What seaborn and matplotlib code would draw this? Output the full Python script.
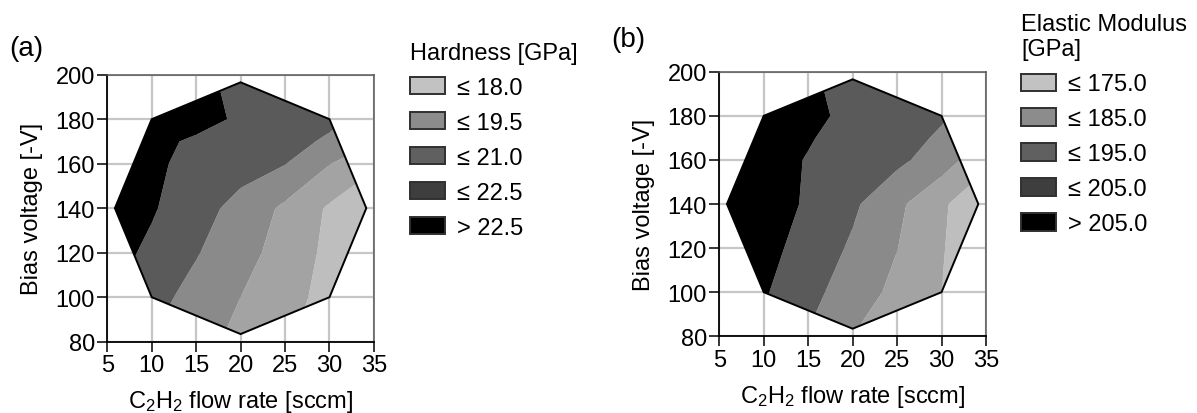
import numpy as np
import matplotlib
matplotlib.use("Agg")
import matplotlib.pyplot as plt
from matplotlib.patches import Polygon, Patch
import seaborn as sns

# Central composite design (perimeter points of the process window)
design_flow = [20.0, 30.0, 34.14, 30.0, 20.0, 10.0, 5.86, 10.0]
design_bias = [196.57, 180.0, 140.0, 100.0, 83.43, 100.0, 140.0, 180.0]

# Response surface grid
flow_rate = [5, 10, 15, 20, 25, 30, 35]
bias_voltage = [80, 100, 120, 140, 160, 170, 180, 200]

# Hardness [GPa]; rows follow bias_voltage, columns follow flow_rate
hardness = [
    [22.3, 21.0, 20.0, 19.1, 18.2, 17.2, 16.3],
    [22.7, 21.5, 20.5, 19.5, 18.55, 17.5, 16.5],
    [23.1, 22.2, 21.1, 20.05, 18.9, 17.65, 16.5],
    [23.8, 22.65, 21.6, 20.5, 19.22, 17.8, 16.4],
    [23.8, 22.75, 22.1, 21.6, 21.05, 19.55, 18.3],
    [24.0, 23.0, 22.2, 21.85, 21.45, 20.8, 19.6],
    [24.5, 24.0, 23.2, 22.2, 21.7, 21.3, 20.5],
    [25.0, 24.3, 23.0, 21.9, 21.8, 21.4, 21.0],
]

# Elastic modulus [GPa]
modulus = [
    [211.0, 203.5, 194.5, 185.0, 178.0, 172.0, 165.0],
    [213.0, 206.0, 198.2, 189.8, 182.6, 175.0, 167.0],
    [215.5, 208.3, 201.1, 193.6, 185.2, 175.8, 166.0],
    [216.0, 210.5, 203.6, 196.7, 187.2, 176.7, 166.0],
    [212.0, 208.5, 204.5, 200.5, 197.3, 190.0, 178.0],
    [213.5, 210.0, 205.7, 201.5, 197.8, 194.0, 186.0],
    [215.0, 211.0, 207.0, 203.0, 199.0, 195.8, 191.0],
    [214.0, 210.0, 206.0, 202.0, 198.0, 195.5, 193.0],
]

hardness_levels = [18.0, 19.5, 21.0, 22.5]
hardness_labels = ["≤ 18.0", "≤ 19.5", "≤ 21.0", "≤ 22.5", "> 22.5"]
modulus_levels = [175.0, 185.0, 195.0, 205.0]
modulus_labels = ["≤ 175.0", "≤ 185.0", "≤ 195.0", "≤ 205.0", "> 205.0"]

x_ticks = [5, 10, 15, 20, 25, 30, 35]
y_ticks = [80, 100, 120, 140, 160, 180, 200]

band_colors = ["#bebebe", "#a3a3a3", "#8a8a8a", "#5a5a5a", "#000000"]
key_colors = ["#c2c2c2", "#8c8c8c", "#606060", "#3e3e3e", "#000000"]

sns.set_theme(style="ticks")
plt.rcParams["font.family"] = ["Liberation Sans", "DejaVu Sans"]
plt.rcParams["text.color"] = "black"
plt.rcParams["axes.labelcolor"] = "black"
plt.rcParams["xtick.color"] = "black"
plt.rcParams["ytick.color"] = "black"
plt.rcParams["mathtext.fontset"] = "custom"
plt.rcParams["mathtext.rm"] = "Liberation Sans"
plt.rcParams["mathtext.it"] = "Liberation Sans:italic"
plt.rcParams["mathtext.bf"] = "Liberation Sans:bold"

FS = 17

fig = plt.figure(figsize=(11.97, 4.14), dpi=100)
ax_a = fig.add_axes([0.0896, 0.1722, 0.2228, 0.6450])
ax_b = fig.add_axes([0.6009, 0.1853, 0.2228, 0.6390])

X, Y = np.meshgrid(flow_rate, bias_voltage)


def draw_panel(ax, values, levels):
    ax.set_xlim(5, 35)
    ax.set_ylim(80, 200)
    ax.set_xticks(x_ticks)
    ax.set_yticks(y_ticks)
    ax.grid(True, color="#c6c6c6", lw=1.6)
    ax.set_axisbelow(True)
    Z = np.array(values)
    cs = ax.contourf(X, Y, Z, levels=levels, colors=band_colors,
                     extend="both", antialiased=True, zorder=2)
    window = Polygon(np.column_stack([design_flow, design_bias]),
                     closed=True, facecolor="none", edgecolor="black",
                     lw=1.4, zorder=3)
    ax.add_patch(window)
    cs.set_clip_path(window)
    ax.tick_params(axis="both", direction="out", length=7, width=1.1,
                   pad=2, labelsize=FS, color="black", labelcolor="black")
    for side in ["left", "bottom"]:
        ax.spines[side].set_color("black")
        ax.spines[side].set_linewidth(1.3)
    for side in ["top", "right"]:
        ax.spines[side].set_color("#555555")
        ax.spines[side].set_linewidth(1.1)
    ax.set_xlabel(r"C$_\mathrm{2}$H$_\mathrm{2}$ flow rate [sccm]", fontsize=FS)
    ax.set_ylabel("Bias voltage [-V]", fontsize=FS)
    ax.yaxis.set_label_coords(-0.24, 0.5)
    ax.xaxis.set_label_coords(0.5, -0.175)


draw_panel(ax_a, hardness, hardness_levels)
draw_panel(ax_b, modulus, modulus_levels)


def add_key(labels, title, anchor):
    handles = [Patch(facecolor=c, edgecolor="#303030", lw=1.4, label=l)
               for c, l in zip(key_colors, labels)]
    leg = fig.legend(handles=handles, title=title, loc="upper left",
                     bbox_to_anchor=anchor, frameon=False, fontsize=FS,
                     title_fontsize=FS, handlelength=1.5, handleheight=0.75,
                     handletextpad=0.5, labelspacing=0.55, borderpad=0,
                     borderaxespad=0, alignment="left")
    return leg


add_key(hardness_labels, "Hardness [GPa]", (410 / 1197, 1 - 43 / 414))
add_key(modulus_labels, "Elastic Modulus\n[GPa]", (1021 / 1197, 1 - 14 / 414))

fig.text(9 / 1197, 1 - 49 / 414, "(a)", fontsize=20, va="center", ha="left")
fig.text(611 / 1197, 1 - 40 / 414, "(b)", fontsize=20, va="center", ha="left")

fig.savefig("out.png", dpi=100)
